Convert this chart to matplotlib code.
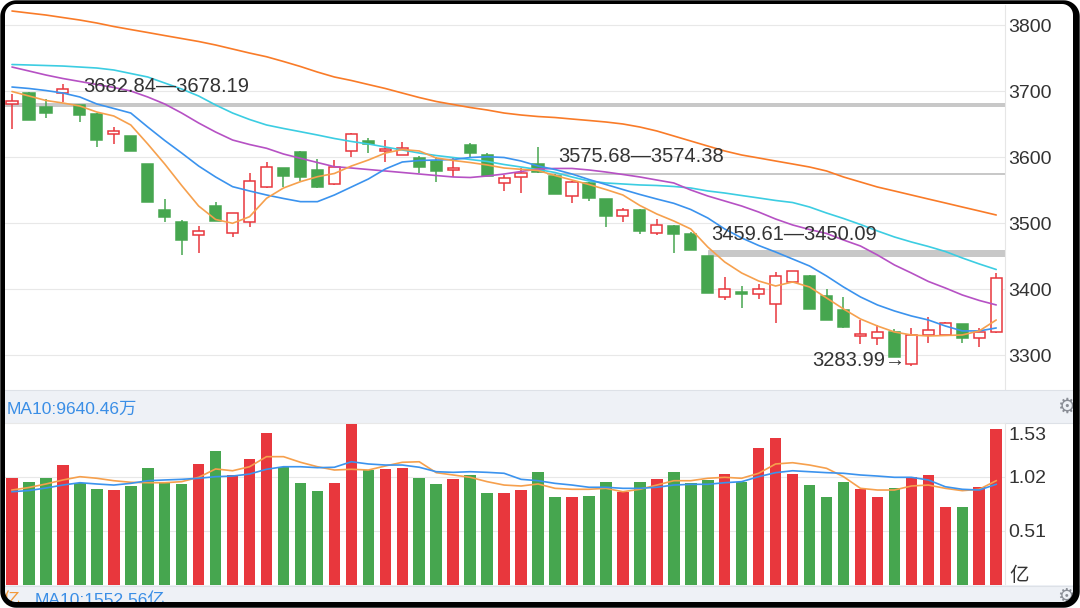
import numpy as np
import matplotlib
matplotlib.use('Agg')
import matplotlib.pyplot as plt
import matplotlib.transforms as mtransforms
from matplotlib.path import Path
from matplotlib.patches import PathPatch, Rectangle

plt.rcParams['font.family'] = ['Liberation Sans', 'Noto Sans CJK SC', 'DejaVu Sans']

# ---------------- data ----------------
opens = [3680.3, 3697.0, 3676.7, 3697.9, 3679.2, 3665.6, 3635.3, 3632.3, 3589.8, 3520.2,
         3502.4, 3481.8, 3526.2, 3485.8, 3501.5, 3554.5, 3583.3, 3608.0, 3580.8, 3559.5,
         3609.5, 3625.2, 3610.0, 3603.5, 3598.5, 3594.8, 3580.8, 3618.6, 3603.5, 3561.5,
         3569.7, 3589.8, 3571.7, 3541.4, 3561.5, 3536.4, 3511.1, 3520.2, 3485.8, 3495.9,
         3483.8, 3450.0, 3387.9, 3395.5, 3392.9, 3377.7, 3411.5, 3420.6, 3389.8, 3368.6,
         3329.7, 3326.7, 3335.8, 3286.8, 3330.8, 3330.8, 3347.4, 3325.8, 3335.8]
closes = [3685.3, 3656.5, 3666.7, 3703.0, 3664.1, 3626.2, 3640.3, 3610.0, 3532.7, 3510.0,
          3474.7, 3488.8, 3504.0, 3515.2, 3564.1, 3584.8, 3571.7, 3569.7, 3554.5, 3585.8,
          3634.8, 3620.2, 3612.1, 3613.6, 3585.8, 3579.7, 3583.3, 3607.0, 3571.7, 3568.2,
          3575.8, 3578.2, 3544.4, 3563.0, 3537.9, 3511.1, 3520.2, 3488.8, 3497.4, 3483.8,
          3459.61, 3394.8, 3400.5, 3392.9, 3400.5, 3420.6, 3427.7, 3370.2, 3353.5, 3342.4,
          3331.8, 3334.8, 3297.9, 3330.8, 3338.3, 3348.5, 3325.8, 3335.8, 3416.7]
highs = [3695.5, 3699.4, 3687.9, 3711.1, 3680.0, 3667.0, 3646.4, 3633.0, 3590.0, 3536.4,
         3505.0, 3495.9, 3532.0, 3516.0, 3576.7, 3592.9, 3584.0, 3609.0, 3597.0, 3595.9,
         3636.4, 3628.8, 3626.2, 3623.6, 3602.0, 3600.0, 3598.5, 3621.2, 3606.0, 3573.2,
         3583.3, 3616.0, 3574.38, 3564.0, 3563.0, 3537.0, 3522.7, 3521.0, 3506.0, 3497.0,
         3487.3, 3450.09, 3419.1, 3405.0, 3408.0, 3426.7, 3428.0, 3421.0, 3400.0, 3388.8,
         3353.5, 3345.9, 3339.4, 3340.9, 3357.6, 3350.0, 3348.0, 3340.9, 3424.2]
lows = [3642.4, 3656.0, 3659.1, 3683.3, 3653.0, 3616.0, 3620.2, 3609.0, 3532.0, 3502.4,
        3452.0, 3454.5, 3503.5, 3479.7, 3494.8, 3554.0, 3555.5, 3564.6, 3554.0, 3558.0,
        3600.9, 3607.0, 3593.3, 3603.0, 3576.7, 3563.0, 3570.6, 3600.0, 3571.0, 3548.9,
        3546.4, 3575.68, 3544.0, 3531.2, 3534.2, 3494.0, 3502.4, 3483.8, 3482.3, 3454.5,
        3459.61, 3394.0, 3383.8, 3372.0, 3384.8, 3348.5, 3411.0, 3370.0, 3353.0, 3341.0,
        3317.1, 3315.6, 3297.0, 3283.99, 3318.2, 3330.0, 3318.2, 3312.1, 3333.3]

ma5 = [3699.7, 3692.9, 3686.1, 3682.3, 3677.7, 3668.6, 3662.6, 3649.0, 3620.2, 3589.9,
       3557.3, 3526.2, 3505.8, 3500.0, 3510.0, 3537.9, 3553.5, 3563.1, 3570.6, 3575.5,
       3586.8, 3595.9, 3606.5, 3611.8, 3609.6, 3599.0, 3595.2, 3592.1, 3588.4, 3583.8,
       3581.8, 3580.0, 3572.4, 3565.6, 3558.8, 3551.2, 3542.9, 3527.0, 3514.1, 3503.5,
       3491.4, 3464.1, 3441.4, 3424.7, 3412.6, 3405.0, 3411.1, 3403.5, 3386.9, 3370.2,
       3355.0, 3344.4, 3335.3, 3330.8, 3329.3, 3330.0, 3330.8, 3336.9, 3353.5]
ma10 = [3706.5, 3704.3, 3701.2, 3697.4, 3691.4, 3680.8, 3674.0, 3667.1, 3645.9, 3625.5,
        3606.5, 3586.8, 3570.2, 3555.5, 3549.0, 3542.9, 3537.6, 3532.8, 3532.8, 3542.9,
        3555.0, 3567.1, 3582.3, 3592.9, 3595.2, 3595.9, 3596.7, 3599.7, 3600.9, 3599.7,
        3594.4, 3586.8, 3581.5, 3574.7, 3566.4, 3558.8, 3551.2, 3543.7, 3536.8, 3530.3,
        3520.9, 3508.1, 3491.4, 3477.8, 3466.4, 3456.5, 3445.9, 3435.3, 3420.2, 3403.5,
        3388.4, 3376.3, 3367.2, 3359.6, 3353.5, 3344.4, 3336.9, 3336.9, 3341.4]
ma20 = [3736.8, 3730.8, 3724.7, 3719.4, 3714.9, 3710.3, 3705.8, 3700.5, 3691.4, 3680.8,
        3667.1, 3652.0, 3638.3, 3626.2, 3619.4, 3613.7, 3605.0, 3598.5, 3592.1, 3585.8,
        3583.8, 3581.5, 3579.3, 3577.0, 3574.7, 3572.4, 3570.2, 3569.4, 3571.7, 3574.7,
        3578.5, 3582.3, 3583.1, 3583.1, 3580.8, 3577.7, 3574.0, 3570.2, 3565.6, 3561.1,
        3550.5, 3541.4, 3533.8, 3526.2, 3517.1, 3506.5, 3497.5, 3490.6, 3484.6, 3474.7,
        3465.6, 3452.0, 3436.9, 3424.7, 3411.9, 3402.0, 3391.4, 3383.1, 3376.3]
ma30 = [3740.6, 3739.9, 3739.1, 3738.3, 3736.8, 3735.3, 3732.3, 3727.0, 3721.7, 3712.6,
        3703.5, 3692.9, 3679.3, 3667.1, 3657.3, 3649.0, 3643.7, 3638.8, 3633.8, 3628.5,
        3624.0, 3620.2, 3615.6, 3611.1, 3606.5, 3602.7, 3599.7, 3596.7, 3593.7, 3589.1,
        3585.3, 3581.5, 3577.0, 3570.2, 3564.1, 3561.1, 3559.6, 3558.1, 3557.3, 3555.8,
        3553.5, 3549.0, 3545.9, 3542.1, 3538.4, 3534.6, 3531.5, 3524.7, 3515.6, 3507.3,
        3498.2, 3488.4, 3479.3, 3471.7, 3464.9, 3457.3, 3447.5, 3438.4, 3430.0]
ma60 = [3821.7, 3818.6, 3815.6, 3811.8, 3808.0, 3803.5, 3798.2, 3793.6, 3789.1, 3784.5,
        3780.0, 3775.5, 3770.2, 3764.1, 3758.0, 3752.4, 3745.2, 3737.6, 3729.2, 3721.7,
        3716.4, 3710.3, 3704.3, 3697.4, 3690.6, 3684.6, 3680.0, 3675.5, 3671.7, 3667.1,
        3664.1, 3661.8, 3660.3, 3658.0, 3655.8, 3653.5, 3650.5, 3645.9, 3639.9, 3632.3,
        3624.7, 3617.1, 3609.6, 3603.5, 3599.0, 3594.4, 3589.9, 3585.3, 3579.3, 3570.2,
        3562.6, 3555.0, 3549.0, 3542.9, 3536.8, 3530.8, 3524.7, 3518.7, 3512.6]

volumes = [1.008, 0.976, 1.008, 1.133, 0.966, 0.907, 0.897, 0.935, 1.102, 0.966,
           0.951, 1.143, 1.268, 1.039, 1.190, 1.433, 1.111, 0.966, 0.891, 0.960,
           1.518, 1.086, 1.096, 1.102, 1.008, 0.951, 1.001, 1.039, 0.866, 0.866,
           0.897, 1.070, 0.834, 0.834, 0.841, 0.976, 0.881, 0.976, 0.998, 1.070,
           0.960, 0.992, 1.048, 0.976, 1.291, 1.385, 1.048, 0.944, 0.828, 0.970,
           0.904, 0.828, 0.913, 1.017, 1.039, 0.740, 0.740, 0.929, 1.470]
vol_ma5 = [0.897, 0.921, 0.954, 0.992, 1.023, 1.008, 0.985, 0.970, 0.966, 0.966,
           0.976, 1.017, 1.096, 1.079, 1.117, 1.212, 1.212, 1.159, 1.117, 1.086,
           1.093, 1.086, 1.124, 1.159, 1.164, 1.061, 1.039, 1.017, 0.976, 0.944,
           0.935, 0.954, 0.913, 0.904, 0.904, 0.913, 0.881, 0.904, 0.944, 0.985,
           0.985, 1.008, 1.017, 1.008, 1.055, 1.143, 1.155, 1.133, 1.102, 1.023,
           0.913, 0.897, 0.897, 0.935, 0.944, 0.913, 0.891, 0.904, 0.985]
vol_ma10 = [0.881, 0.892, 0.916, 0.944, 0.966, 0.954, 0.944, 0.960, 0.985, 0.992,
            0.998, 1.008, 1.023, 1.029, 1.048, 1.093, 1.117, 1.117, 1.108, 1.112,
            1.164, 1.143, 1.133, 1.133, 1.112, 1.070, 1.064, 1.070, 1.064, 1.055,
            0.998, 0.985, 0.960, 0.944, 0.923, 0.923, 0.913, 0.913, 0.923, 0.944,
            0.951, 0.951, 0.966, 0.976, 1.023, 1.061, 1.079, 1.070, 1.061, 1.055,
            1.039, 1.029, 1.017, 1.017, 0.992, 0.928, 0.904, 0.897, 0.951]

price_ticks = [3300, 3400, 3500, 3600, 3700, 3800]
vol_ticks = [1.53, 1.02, 0.51]
vol_tick_labels = ['1.53', '1.02', '0.51']
vol_unit = '亿'

gap_highs = [3682.84, 3575.68, 3459.61]
gap_lows = [3678.19, 3574.38, 3450.09]
gap_start = [-0.5, 31.5, 41.0]
gap_text_x = [4.18, 32.17, 41.19]
gap_text_y = [3707.0, 3600.5, 3482.3]
low_value = 3283.99
low_index = 53

header_text = 'MA10:9640.46万'
footer_left = '亿'
footer_text = 'MA10:1552.56亿'

# ---------------- style ----------------
RED = '#e8373d'
GREEN = '#46a64f'
C_MA5 = '#f6a04d'
C_MA10 = '#3b93ee'
C_MA20 = '#b651c4'
C_MA30 = '#3ccde2'
C_MA60 = '#f97b28'
TXT = '#333333'
STRIP = '#eef1f6'

W, H = 1080, 608
fig = plt.figure(figsize=(W / 100, H / 100), dpi=100, facecolor='white')


def fx(px):
    return px / W


PL, PR = 3.5, 1004.7
n = len(closes)
idx = np.arange(n)

# ---------------- price panel ----------------
axp = fig.add_axes([fx(PL), 1 - 390 / H, fx(PR - PL), (390 - 5) / H])
axp.set_xlim(-0.5, n - 0.5)
axp.set_ylim(3247.4, 3830.8)
axp.set_xticks([])
axp.set_yticks(price_ticks)
axp.yaxis.tick_right()
axp.tick_params(axis='y', length=0, pad=2.4, labelsize=14, labelcolor=TXT)
axp.grid(axis='y', color='#e8e8e8', lw=0.8, zorder=0)
for s in ['top', 'left', 'bottom']:
    axp.spines[s].set_visible(False)
axp.spines['right'].set_color('#e6e6e6')
axp.spines['right'].set_linewidth(0.8)

for gh, gl, gs in zip(gap_highs, gap_lows, gap_start):
    axp.add_patch(Rectangle((gs, gl), (n - 0.5) - gs, gh - gl, facecolor='#c8c8c8',
                            edgecolor='#c8c8c8', lw=0.7, zorder=1.5))

up = [c >= o for o, c in zip(opens, closes)]
cols = [RED if u else GREEN for u in up]
faces = ['white' if u else GREEN for u in up]
axp.vlines(idx, lows, highs, colors=cols, lw=1.1, zorder=2.5)
bottoms = [min(o, c) for o, c in zip(opens, closes)]
heights = [abs(c - o) for o, c in zip(opens, closes)]
axp.bar(idx, heights, bottom=bottoms, width=0.66, color=faces, edgecolor=cols,
        linewidth=1.1, zorder=3)

for series, col in [(ma60, C_MA60), (ma30, C_MA30), (ma20, C_MA20), (ma10, C_MA10), (ma5, C_MA5)]:
    axp.plot(idx, series, color=col, lw=1.2, zorder=4, solid_capstyle='round')

for gh, gl, tx, ty in zip(gap_highs, gap_lows, gap_text_x, gap_text_y):
    axp.text(tx, ty, f'{gh:.2f}\u2014{gl:.2f}', fontsize=14.5, color=TXT,
             ha='left', va='center', zorder=6)
axp.text(low_index - 0.38, 3292.0, f'{low_value:.2f}\u2192', fontsize=14.5, color=TXT,
         ha='right', va='center', zorder=6)

# ---------------- header strip ----------------
axh = fig.add_axes([fx(PL), 1 - 423 / H, fx(W - PL), (423 - 390) / H])
axh.set_xlim(PL, W)
axh.set_ylim(423, 390)
axh.set_facecolor(STRIP)
axh.set_xticks([])
axh.set_yticks([])
for s in axh.spines.values():
    s.set_color('#dde1e7')
    s.set_linewidth(0.8)
axh.text(7, 409.5, header_text, color='#3a8ee6', fontsize=12.5, ha='left',
         va='center', clip_on=True)
axh.text(1066, 407, '\u2699', family='DejaVu Sans', fontsize=15, color='#8a8e96',
         ha='center', va='center', clip_on=True)

# ---------------- volume panel ----------------
axv = fig.add_axes([fx(PL), 1 - 585 / H, fx(PR - PL), (585 - 423) / H])
axv.set_xlim(-0.5, n - 0.5)
axv.set_ylim(0, 1.53)
axv.set_xticks([])
axv.set_yticks(vol_ticks)
axv.set_yticklabels([])
axv.tick_params(axis='y', length=0)
axv.grid(axis='y', color='#e8e8e8', lw=0.8, zorder=0)
for s in ['left', 'bottom', 'top']:
    axv.spines[s].set_visible(False)
axv.spines['right'].set_color('#e6e6e6')
axv.spines['right'].set_linewidth(0.8)

vcols = [RED if u else GREEN for u in up]
axv.bar(idx, volumes, width=0.68, color=vcols, zorder=2)
axv.plot(idx, vol_ma5, color=C_MA5, lw=1.2, zorder=3)
axv.plot(idx, vol_ma10, color=C_MA10, lw=1.2, zorder=3)

btrans = mtransforms.blended_transform_factory(axv.transAxes, axv.transData)
for v, lab in zip(vol_ticks, vol_tick_labels):
    if v == max(vol_ticks):
        tr = btrans + mtransforms.ScaledTranslation(3.3 / 100, -4 / 100, fig.dpi_scale_trans)
        axv.text(1, v, lab, transform=tr, ha='left', va='top', fontsize=14, color=TXT, clip_on=False)
    else:
        tr = btrans + mtransforms.ScaledTranslation(3.3 / 100, -1.5 / 100, fig.dpi_scale_trans)
        axv.text(1, v, lab, transform=tr, ha='left', va='center', fontsize=14, color=TXT, clip_on=False)
tr = btrans + mtransforms.ScaledTranslation(4.5 / 100, 0, fig.dpi_scale_trans)
axv.text(1, 0, vol_unit, transform=tr, ha='left', va='bottom', fontsize=14, color=TXT, clip_on=False)

# ---------------- footer strip ----------------
axf = fig.add_axes([fx(PL), 0, fx(W - PL), (H - 585) / H])
axf.set_xlim(PL, W)
axf.set_ylim(608, 585)
axf.set_facecolor(STRIP)
axf.set_xticks([])
axf.set_yticks([])
for s in axf.spines.values():
    s.set_visible(False)
axf.axhline(585.5, color='#dde1e7', lw=0.8)
axf.text(20, 600, footer_left, color='#f39a3a', fontsize=12.5, ha='right', va='center', clip_on=True)
axf.text(35, 600, footer_text, color='#3a8ee6', fontsize=12.5, ha='left', va='center', clip_on=True)
axf.text(1066, 596, '\u2699', family='DejaVu Sans', fontsize=14, color='#8a8e96',
         ha='center', va='center', clip_on=True)


# ---------------- rounded black frame ----------------
def rrect(x0, y0, x1, y1, r, k=16):
    pts = []
    for cx, cy, a0 in [(x1 - r, y0 + r, -90), (x1 - r, y1 - r, 0),
                       (x0 + r, y1 - r, 90), (x0 + r, y0 + r, 180)]:
        for t in np.linspace(a0, a0 + 90, k):
            pts.append((cx + r * np.cos(np.radians(t)), cy + r * np.sin(np.radians(t))))
    pts.append(pts[0])
    return np.array(pts)


def to_fig(pts):
    p = pts.copy()
    p[:, 0] /= W
    p[:, 1] /= H
    return p


def closed(pts):
    codes = [Path.MOVETO] + [Path.LINETO] * (len(pts) - 2) + [Path.CLOSEPOLY]
    return Path(pts, codes)


outer_rect = np.array([(0, 0), (W, 0), (W, H), (0, H), (0, 0)], dtype=float)
outer_round = rrect(0.3, 0.3, W - 0.3, H - 0.3, 16)
inner_round = rrect(5, H - 602, 1073, H - 4, 11)

white_corners = Path.make_compound_path(closed(to_fig(outer_rect)), closed(to_fig(outer_round[::-1])))
ring = Path.make_compound_path(closed(to_fig(outer_round)), closed(to_fig(inner_round[::-1])))
fig.add_artist(PathPatch(white_corners, facecolor='white', edgecolor='none',
                         transform=fig.transFigure, zorder=100))
fig.add_artist(PathPatch(ring, facecolor='black', edgecolor='none',
                         transform=fig.transFigure, zorder=101))

fig.savefig('out.png', dpi=100, facecolor='white')
